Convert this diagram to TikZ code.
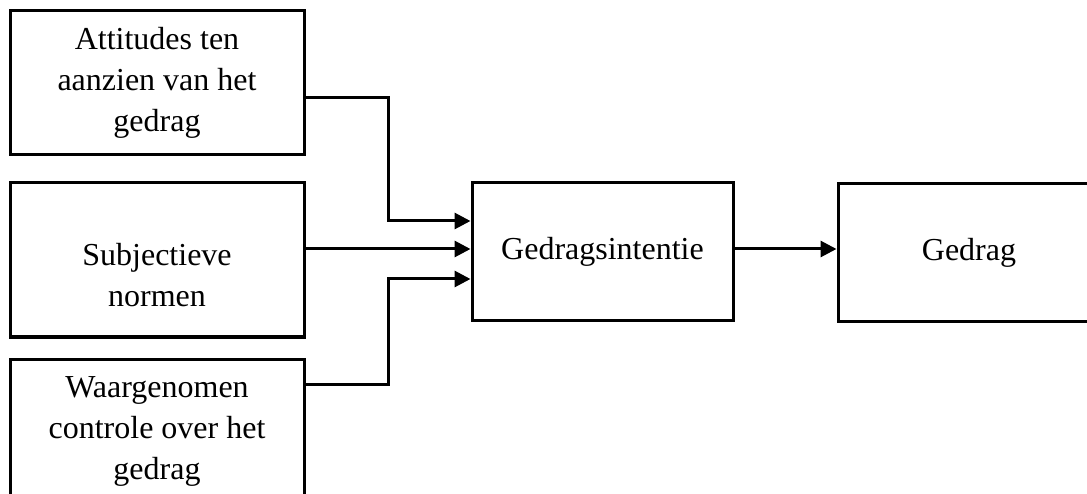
\documentclass[tikz,border=0pt]{standalone}
\usepackage{fontspec}
\setmainfont{Liberation Serif}
\usetikzlibrary{arrows.meta}
\begin{document}
\begin{tikzpicture}[x=1pt, y=-1pt,
  box/.style={draw=black, line width=3pt, fill=white, inner sep=0pt,
    align=center, font=\fontsize{32}{41}\selectfont},
  conn/.style={line width=3pt, -{Triangle[length=16pt,width=16pt]}}]
  \useasboundingbox (0,0) rectangle (1087,494);
  \fill[white] (0,0) rectangle (1087,494);
  \clip (0,0) rectangle (1087,494);

  % three determinants on the left
  \node[box, minimum width=294pt, minimum height=144pt] (att) at (157,83)
    {Attitudes ten\\aanzien van het\\gedrag};
  \node[box, minimum width=294pt, minimum height=154pt,
    label={[align=center, font=\fontsize{32}{41}\selectfont, yshift=-15pt]center:Subjectieve\\normen}]
    (sub) at (157,260) {};
  \node[box, minimum width=294pt, minimum height=144pt] (waar) at (157,431)
    {Waargenomen\\controle over het\\gedrag};

  % intention and behaviour
  \node[box, minimum width=261pt, minimum height=138pt] (int) at (602.5,252)
    {Gedragsintentie};
  \node[box, minimum width=262pt, minimum height=138pt] (ged) at (969,252.5)
    {Gedrag};

  % connectors
  \draw[conn] (att.east |- 0,98) -| (388,221) -- (int.west |- 0,221);
  \draw[conn] (sub.east |- 0,249) -- (int.west |- 0,249);
  \draw[conn] (waar.east |- 0,384) -| (388,279) -- (int.west |- 0,279);
  \draw[conn] (int.east |- 0,249) -- (ged.west |- 0,249);
\end{tikzpicture}
\end{document}
